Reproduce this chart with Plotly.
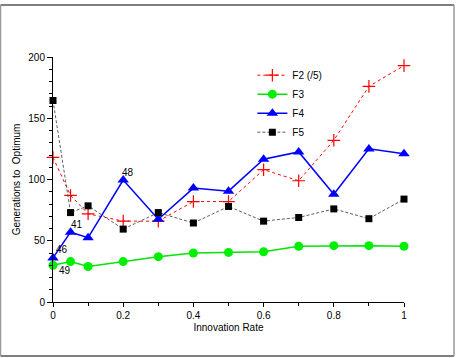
import plotly.graph_objects as go

# ---- data ----
innovation_rate = [0, 0.05, 0.1, 0.2, 0.3, 0.4, 0.5, 0.6, 0.7, 0.8, 0.9, 1.0]
f2 = [118, 87, 72, 66, 66, 82, 82, 108, 99, 132, 176, 193]
f3 = [30, 33, 29, 33, 37, 40, 40.5, 41, 45.5, 46, 46, 45.5]
f4 = [36, 57, 52.5, 99.5, 67.5, 93, 90.5, 116.5, 122.5, 88, 125, 121]
f5 = [164.5, 73, 78.5, 59.5, 73, 64.5, 78, 66, 69, 76, 68, 84]
x_ticks = [0, 0.2, 0.4, 0.6, 0.8, 1]
x_tick_labels = ["0", "0.2", "0.4", "0.6", "0.8", "1"]
y_ticks = [0, 50, 100, 150, 200]

# point labels: (text, series, index)
point_labels = ["46", "49", "41", "48"]
point_label_series = ["f4", "f3", "f4", "f4"]
point_label_index = [0, 0, 1, 3]

series = {"f2": f2, "f3": f3, "f4": f4, "f5": f5}

FONT = "Liberation Sans, Arial, Helvetica, sans-serif"

fig = go.Figure()
fig.add_trace(go.Scatter(
    x=innovation_rate, y=f2, name="F2 (/5)", mode="lines+markers",
    line=dict(color="#ff0000", width=1, dash="dot"),
    marker=dict(symbol="cross-thin-open", size=9, color="#ff0000",
                line=dict(color="#ff0000", width=1.2)),
    cliponaxis=False))
fig.add_trace(go.Scatter(
    x=innovation_rate, y=f3, name="F3", mode="lines+markers",
    line=dict(color="#00e600", width=1.5),
    marker=dict(symbol="circle", size=9, color="#00ee00"),
    cliponaxis=False))
fig.add_trace(go.Scatter(
    x=innovation_rate, y=f4, name="F4", mode="lines+markers",
    line=dict(color="#0000ff", width=1.5),
    marker=dict(symbol="triangle-up", size=10, color="#0000ff"),
    cliponaxis=False))
fig.add_trace(go.Scatter(
    x=innovation_rate, y=f5, name="F5", mode="lines+markers",
    line=dict(color="#333333", width=0.8, dash="3px,2px"),
    marker=dict(symbol="square", size=7, color="#000000"),
    cliponaxis=False))

shifts = [(9, 8), (12, -5), (6, 8), (5, 8)]
for txt, s, i, (dx, dy) in zip(point_labels, point_label_series, point_label_index, shifts):
    fig.add_annotation(x=innovation_rate[i], y=series[s][i], text=txt,
                       showarrow=False, xshift=dx, yshift=dy,
                       font=dict(family=FONT, size=10, color="black"))

# frame around the whole figure (paper coords relative to plot area)
L, R, T, B = 53, 404, 57, 302
def px(xp):
    return (xp - L) / (R - L)
def py(yp):
    return (B - yp) / (B - T)
fx0, fx1, fy0, fy1 = px(0.5), px(454), py(356), py(5)
fig.add_shape(type="line", xref="paper", yref="paper", x0=fx0, x1=fx1, y0=fy1, y1=fy1,
              line=dict(color="#555555", width=1.5))
fig.add_shape(type="line", xref="paper", yref="paper", x0=fx0, x1=fx1, y0=fy0, y1=fy0,
              line=dict(color="#555555", width=1.5))
fig.add_shape(type="line", xref="paper", yref="paper", x0=fx0, x1=fx0, y0=fy0, y1=fy1,
              line=dict(color="#999999", width=1.5))
fig.add_shape(type="line", xref="paper", yref="paper", x0=fx1, x1=fx1, y0=fy0, y1=fy1,
              line=dict(color="#999999", width=1.5))

axis_common = dict(showgrid=False, zeroline=False, showline=True, linecolor="black",
                   linewidth=1, ticks="outside", tickcolor="black", tickwidth=1,
                   tickfont=dict(family=FONT, size=10, color="black"),
                   title_font=dict(family=FONT, size=10, color="black"))

fig.update_xaxes(range=[0, 1], tickvals=x_ticks, ticktext=x_tick_labels, ticklen=4,
                 minor=dict(dtick=0.1, ticks="outside", ticklen=3, tickcolor="black"),
                 title_text="Innovation Rate", title_standoff=3, **axis_common)
fig.update_yaxes(range=[0, 200], tickvals=y_ticks, ticklen=5,
                 minor=dict(dtick=10, ticks="outside", ticklen=3, tickcolor="black"),
                 title_text="Generations to  Optimum", title_standoff=5, **axis_common)

fig.update_layout(
    width=460, height=358,
    margin=dict(l=L, r=460 - R, t=T, b=358 - B),
    paper_bgcolor="white", plot_bgcolor="white",
    font=dict(family=FONT, size=10, color="black"),
    showlegend=True,
    legend=dict(x=0.568, y=0.985, xanchor="left", yanchor="top",
                bgcolor="rgba(0,0,0,0)", borderwidth=0,
                font=dict(family=FONT, size=10, color="black"),
                itemwidth=30, tracegroupgap=0),
)

fig.write_html("out.html")
